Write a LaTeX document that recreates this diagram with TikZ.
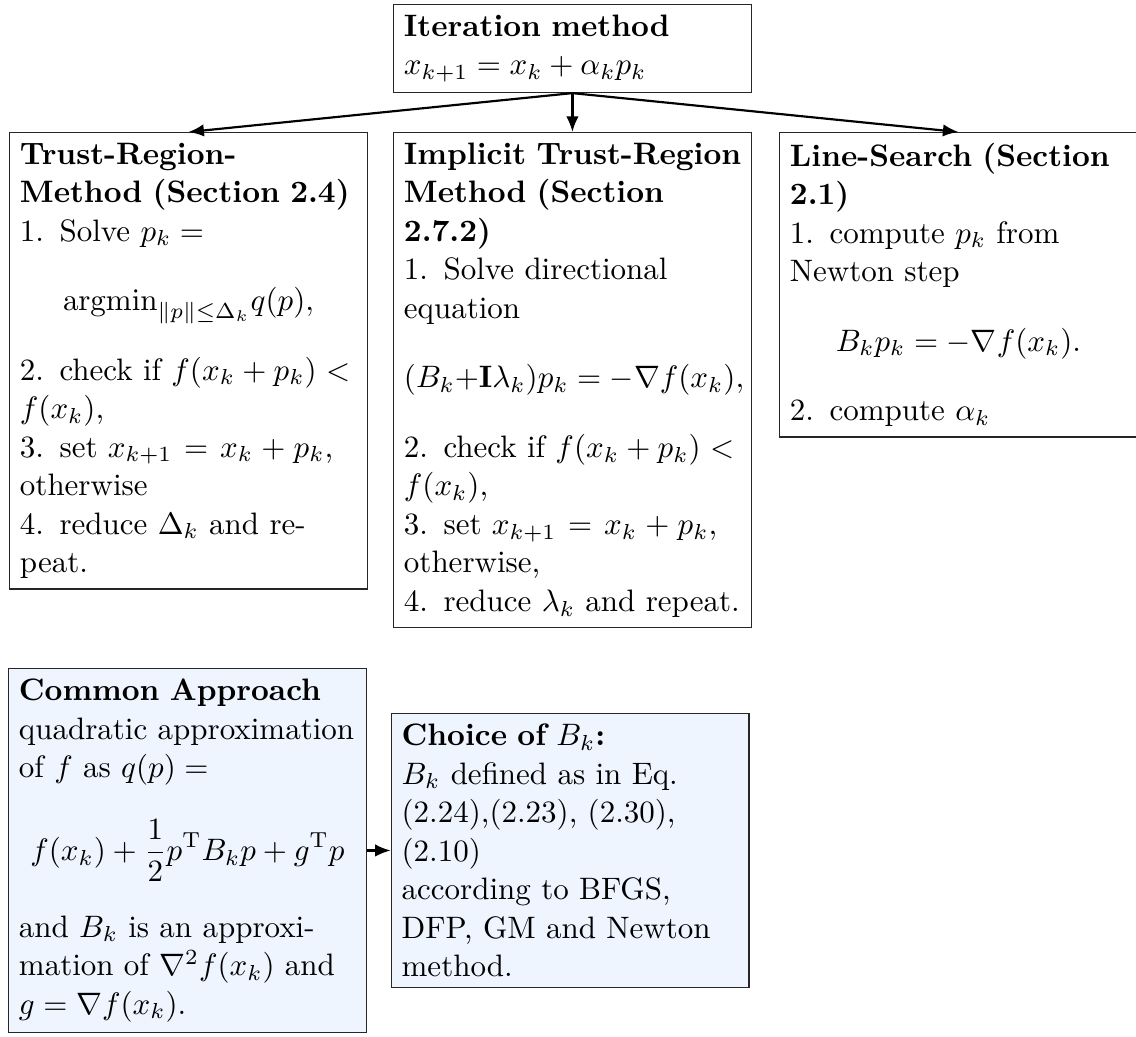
\documentclass[tikz,border=0pt]{standalone}
\usetikzlibrary{arrows.meta,positioning}
\definecolor{lightbluefill}{RGB}{238,245,255}
\begin{document}
\begin{tikzpicture}[x=0.32258pt,y=-0.32258pt,
  box/.style={draw=black!85, line width=0.4pt, text width=108.7pt, align=left,
    anchor=north west, inner sep=3.33pt, font=\fontsize{10}{12.42}\selectfont,
    execute at begin node={\setlength{\parindent}{0pt}}},
  bluebox/.style={box, fill=lightbluefill},
  conn/.style={line width=0.7pt, -{Latex[length=5pt,width=4pt]}}]
\useasboundingbox (0,0) rectangle (1136,1037);

\node[box] (top) at (393,4) {\textbf{Iteration method}\\
  $x_{k+1} = x_k + \alpha_k p_k$};

\node[box] (trust) at (9,132) {\textbf{Trust-Region-\\Method (Section 2.4)}\\
  1. Solve $p_k =$
  \[ \mathrm{argmin}_{\|p\|\leq\Delta_k} q(p), \]
  2. check if $f(x_k+p_k) < f(x_k)$,\\
  3. set $x_{k+1} = x_k + p_k$, otherwise\\
  4. reduce $\Delta_k$ and repeat.};

\node[box] (implicit) at (393,132) {\textbf{\mbox{Implicit Trust-Region}\\Method (Section\\2.7.2)}\\
  1. Solve directional equation
  \[ (B_k+\mathbf{I}\lambda_k)p_k = -\nabla f(x_k), \]
  2. check if $f(x_k+p_k) < f(x_k)$,\\
  3. set $x_{k+1} = x_k + p_k$, otherwise,\\
  4. reduce $\lambda_k$ and repeat.};

\node[box] (line) at (779,132) {\textbf{Line-Search (Section\\2.1)}\\
  1. compute $p_k$ from Newton step
  \[ B_k p_k = -\nabla f(x_k). \]
  2. compute $\alpha_k$};

\node[bluebox] (common) at (8,668) {\textbf{Common Approach}\\
  quadratic approximation of $f$ as $q(p) =$
  \[ f(x_k) + \frac{1}{2} p^{\mathrm{T}} B_k p + g^{\mathrm{T}} p \]
  and $B_k$ is an approximation of $\nabla^2 f(x_k)$ and $g = \nabla f(x_k)$.};

\node[bluebox, anchor=west, right=7.7pt of common] (choice) {\textbf{Choice of $B_k$:}\\
  $B_k$ defined as in Eq.\\
  (2.24),(2.23), (2.30),\\
  (2.10)\\
  according to BFGS,\\
  DFP, GM and Newton\\
  method.};

\draw[conn] (top.south) -- (trust.north);
\draw[conn] (top.south) -- (implicit.north);
\draw[conn] (top.south) -- (line.north);
\draw[conn] (common.east) -- (choice.west);
\end{tikzpicture}
\end{document}
